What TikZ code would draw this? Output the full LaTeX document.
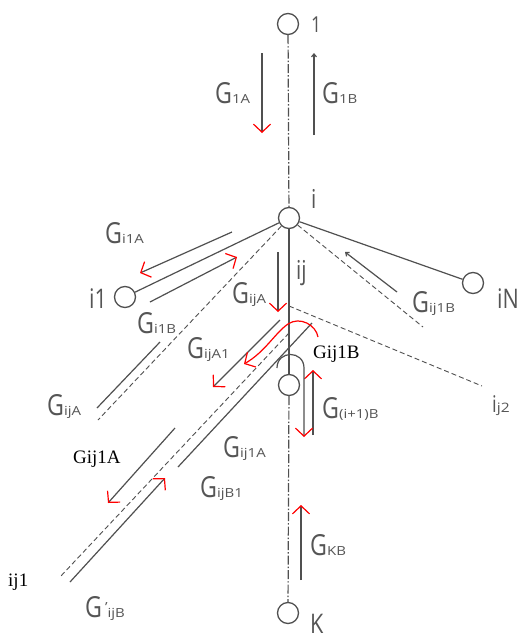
\documentclass[tikz,border=0pt]{standalone}
\usepackage{fontspec}
\setmainfont{Open Sans}
\newfontfamily\cadG[FakeStretch=0.8]{Open Sans}
\newfontfamily\cadsub[FakeStretch=1.2]{Open Sans}
\newfontfamily\timesf{Liberation Serif}
\usetikzlibrary{arrows.meta}
\definecolor{lg}{HTML}{505050}
\definecolor{tg}{HTML}{555555}
\newcommand{\GG}[1]{{\cadG\fontsize{29}{29}\selectfont G}{\cadsub\fontsize{12.5}{12.5}\selectfont #1}}
\newcommand{\cadtxt}[2]{{\cadG\fontsize{#1}{#1}\selectfont #2}}
\newcommand{\tms}[1]{{\timesf\fontsize{19}{19}\selectfont #1}}
\tikzset{
  pipe/.style={draw=lg, line width=1.2pt},
  dashdot/.style={draw=lg, line width=1.2pt, dash pattern=on 9pt off 2pt on 1.5pt off 2pt},
  dashedline/.style={draw=lg, line width=0.9pt, dash pattern=on 5pt off 3pt},
  junction/.style={circle, draw=lg, line width=1.3pt, minimum size=21pt, inner sep=0pt, fill=white},
  flow/.style={draw=lg, line width=1.2pt},
  redtip/.style={-{Straight Barb[color=red, length=8pt, width=17pt, line width=1.2pt]}},
  blacktip/.style={-{Straight Barb[length=3pt, width=5pt]}},
  redcurve/.style={draw=red, line width=1.2pt},
  cad/.style={text=tg, inner sep=0pt, anchor=base west},
  tlabel/.style={text=black, inner sep=0pt, anchor=base west}
}
\begin{document}
\begin{tikzpicture}[x=1pt,y=-1pt]
\fill[white] (0,0) rectangle (526,638);
\useasboundingbox (0,0) rectangle (526,638);

% junction circles
\node[junction] (n1)  at (288,24)  {};
\node[junction] (ni)  at (289,218) {};
\node[junction] (ni1) at (125,297) {};
\node[junction] (niN) at (473,283) {};
\node[junction] (nip) at (289,385) {};
\node[junction] (nK)  at (288,613) {};

% free ends
\coordinate (dA)  at (98,420);
\coordinate (dB)  at (423,327);
\coordinate (s2)  at (289,306);
\coordinate (e2)  at (482,386);
\coordinate (sj)  at (289,333);
\coordinate (ej)  at (60,577);

% pipes
\draw[dashdot] (n1) -- (ni);
\draw[pipe] (ni) -- (nip);
\draw[dashdot] (nip) -- (nK);
\draw[pipe] (ni) -- (ni1);
\draw[pipe] (ni) -- (niN);
\draw[dashedline] (ni) -- (dA);
\draw[dashedline] (ni) -- (dB);
\draw[dashedline] (s2) -- (e2);
\draw[dashedline] (sj) -- (ej);

% flow arrows
\coordinate (a1s) at (262,53);  \coordinate (a1e) at (262,133);
\draw[flow,redtip] (a1s) -- (a1e);
\coordinate (b1s) at (314,135); \coordinate (b1e) at (314,53);
\draw[flow,blacktip] (b1s) -- (b1e);
\coordinate (ai1s) at (232,232); \coordinate (ai1e) at (140,273);
\draw[flow,redtip] (ai1s) -- (ai1e);
\coordinate (bi1s) at (150,302); \coordinate (bi1e) at (237,257);
\draw[flow,redtip] (bi1s) -- (bi1e);
\coordinate (ajs) at (278,252); \coordinate (aje) at (278,312);
\draw[flow,redtip] (ajs) -- (aje);
\coordinate (bj1s) at (397,292); \coordinate (bj1e) at (345,252);
\draw[flow,blacktip] (bj1s) -- (bj1e);
\coordinate (alS) at (160,342); \coordinate (alE) at (97,408);
\draw[flow] (alS) -- (alE);
\coordinate (aj1s) at (280,320); \coordinate (aj1e) at (213,387);
\draw[flow,redtip] (aj1s) -- (aj1e);
\coordinate (a1As) at (175,428); \coordinate (a1Ae) at (108,503);
\draw[flow,redtip] (a1As) -- (a1Ae);
\coordinate (bB1s) at (178,467); \coordinate (bB1e) at (312,323);
\draw[flow] (bB1s) -- (bB1e);
\coordinate (bpBs) at (70,582); \coordinate (bpBe) at (165,478);
\draw[flow,redtip] (bpBs) -- (bpBe);
\coordinate (ipBs) at (313,435); \coordinate (ipBe) at (313,370);
\draw[flow,redtip] (ipBs) -- (ipBe);
\coordinate (kBs) at (301,580); \coordinate (kBe) at (301,505);
\draw[flow,redtip] (kBs) -- (kBe);
% loop around node i+1
\coordinate (lpS) at (277,368); \coordinate (lpT) at (304,368); \coordinate (lpE) at (304,437);
\draw[flow,redtip] (lpS) .. controls (277,350) and (304,350) .. (lpT) -- (lpE);
% red turning curve
\coordinate (rcS) at (318,337); \coordinate (rcM) at (288,324); \coordinate (rcE) at (244,364);
\draw[redcurve,redtip] (rcS) .. controls (316,325) and (300,316) .. (rcM) .. controls (275,333) and (265,352) .. (rcE);

% labels
\node[cad] (t1)   at (311,32)  {\cadtxt{22}{1}};
\node[cad] (ti)   at (311,208) {\cadtxt{26}{i}};
\node[cad] (ti1)  at (89,308)  {\cadtxt{27}{i1}};
\node[cad] (tiN)  at (497,308) {\cadtxt{27}{iN}};
\node[cad] (tij)  at (296,279) {\cadtxt{26}{ij}};
\node[cad] (tij2) at (492,412) {\cadtxt{23}{i}{\cadsub\fontsize{13}{13}\selectfont j2}};
\node[cad] (tK)   at (310,633) {\cadtxt{27}{K}};

\node[cad] (g1A)   at (215,103) {\GG{1A}};
\node[cad] (g1B)   at (322,103) {\GG{1B}};
\node[cad] (gi1A)  at (105,243) {\GG{i1A}};
\node[cad] (gi1B)  at (137,333) {\GG{i1B}};
\node[cad] (gijA)  at (232,303) {\GG{ijA}};
\node[cad] (gij1B) at (412,312) {\GG{ij1B}};
\node[cad] (gijA1) at (187,358) {\GG{ijA1}};
\node[cad] (gijAl) at (47,415)  {\GG{ijA}};
\node[cad] (gipB)  at (322,418) {\GG{(i+1)B}};
\node[cad] (gij1A) at (223,457) {\GG{ij1A}};
\node[cad] (gijB1) at (200,497) {\GG{ijB1}};
\node[cad] (gKB)   at (310,555) {\GG{KB}};
\node[cad] (gpijB) at (85,617)  {{\cadG\fontsize{29}{29}\selectfont G}\hspace{3pt}{\cadsub\fontsize{12.5}{12.5}\selectfont\raisebox{6pt}{’}ijB}};

\node[tlabel] (Tij1B) at (313,358) {\tms{Gij1B}};
\node[tlabel] (Tij1A) at (73,463)  {\tms{Gij1A}};
\node[tlabel] (Tij1)  at (8,586)   {\tms{ij1}};
\end{tikzpicture}
\end{document}
